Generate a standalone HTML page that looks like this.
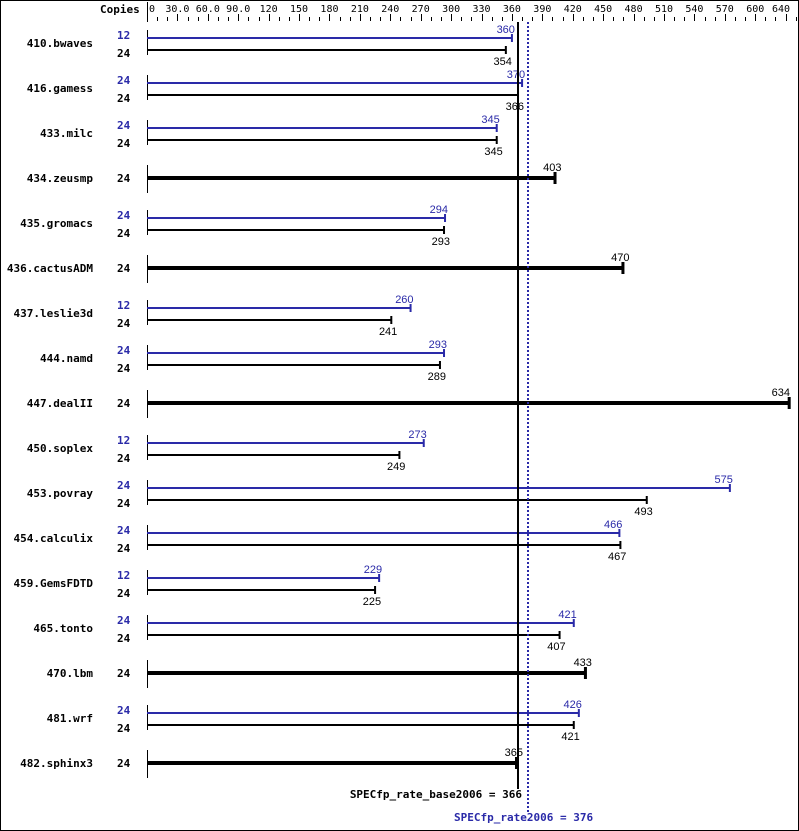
<!DOCTYPE html>
<html><head><meta charset="utf-8"><style>
html,body{margin:0;padding:0;background:#fff}
svg{display:block}
text{font-family:"DejaVu Sans Mono","Liberation Mono",monospace}
.v{font-family:"Liberation Sans",sans-serif}
</style></head><body>
<svg id="s" width="799" height="831" xmlns="http://www.w3.org/2000/svg">
<rect x="0.5" y="0.5" width="798" height="830" fill="#fff" stroke="#000"/>
</svg>
<script>
var s=document.getElementById('s'),NS='http://www.w3.org/2000/svg';
function el(t,a,txt){var e=document.createElementNS(NS,t);for(var k in a)e.setAttribute(k,a[k]);if(txt!=null)e.textContent=txt;s.appendChild(e);return e;}
function X(v){return 147+v*1.0137;}
var B='#2a2aa8';
el('text',{x:100,y:13,'font-size':11,'font-weight':'bold'},'Copies');
el('line',{x1:147.5,y1:2,x2:147.5,y2:22,stroke:'#000'});
for(var v=0;v<=640;v+=10){var x=Math.round(X(v))+0.5;var maj=v%30==0;el('line',{x1:x,y1:maj?14:17,x2:x,y2:21,stroke:'#000'});}
el('text',{x:149,y:12,'font-size':10},'0');
for(var v=30;v<=600;v+=30){var lab=(v<100?v.toFixed(1):''+v);el('text',{x:X(v),y:12,'font-size':10,'text-anchor':'middle'},lab);}
el('text',{x:790,y:12,'font-size':10,'text-anchor':'end'},'640');
var D=[['410.bwaves',12,360,354],['416.gamess',24,370,366],['433.milc',24,345,345],['434.zeusmp',24,null,403],['435.gromacs',24,294,293],['436.cactusADM',24,null,470],['437.leslie3d',12,260,241],['444.namd',24,293,289],['447.dealII',24,null,634],['450.soplex',12,273,249],['453.povray',24,575,493],['454.calculix',24,466,467],['459.GemsFDTD',12,229,225],['465.tonto',24,421,407],['470.lbm',24,null,433],['481.wrf',24,426,421],['482.sphinx3',24,null,365]];
D.forEach(function(d,i){var y0=30+45*i;
 el('text',{x:93,y:y0+17,'font-size':11,'font-weight':'bold','text-anchor':'end'},d[0]);
 if(d[2]==null){
  el('line',{x1:147.5,y1:y0,x2:147.5,y2:y0+28,stroke:'#000'});
  el('text',{x:117,y:y0+17,'font-size':11,'font-weight':'bold'},'24');
  var e=X(d[3]);
  el('rect',{x:147,y:y0+11,width:e-147,height:4,fill:'#000'});
  el('rect',{x:e-2,y:y0+7,width:3,height:12,fill:'#000'});
  el('text',{x:Math.min(e+6,790),y:y0+6,'font-size':11,'text-anchor':'end','class':'v'},''+d[3]);
 }else{
  el('line',{x1:147.5,y1:y0,x2:147.5,y2:y0+25,stroke:'#000'});
  el('text',{x:117,y:y0+9,'font-size':11,'font-weight':'bold',fill:B},''+d[1]);
  el('text',{x:117,y:y0+27,'font-size':11,'font-weight':'bold'},'24');
  var eb=X(d[2]),ek=X(d[3]);
  el('rect',{x:147,y:y0+7,width:eb-147,height:2,fill:B});
  el('rect',{x:eb-1,y:y0+4,width:2,height:8,fill:B});
  el('text',{x:eb+3,y:y0+3,'font-size':11,'text-anchor':'end',fill:B,'class':'v'},''+d[2]);
  el('rect',{x:147,y:y0+19,width:ek-147,height:2,fill:'#000'});
  el('rect',{x:ek-1,y:y0+16,width:2,height:8,fill:'#000'});
  el('text',{x:ek+6,y:y0+35,'font-size':11,'text-anchor':'end','class':'v'},''+d[3]);
 }
});
el('rect',{x:517,y:22,width:2,height:767,fill:'#000'});
el('line',{x1:528,y1:22,x2:528,y2:812,stroke:B,'stroke-width':2,'stroke-dasharray':'2,2'});
el('text',{x:522,y:798,'font-size':11,'font-weight':'bold','text-anchor':'end'},'SPECfp_rate_base2006 = 366');
el('text',{x:454,y:821,'font-size':11,'font-weight':'bold',fill:B},'SPECfp_rate2006 = 376');
</script>
</body></html>
